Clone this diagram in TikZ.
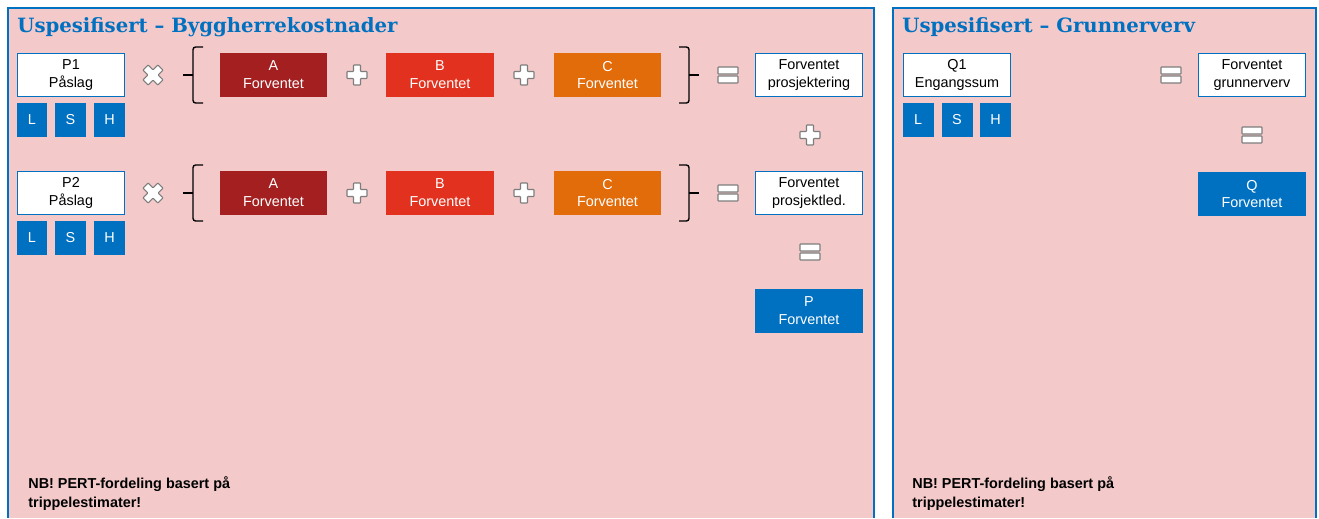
\documentclass[tikz,border=0pt]{standalone}
\usepackage{fontspec}
\setmainfont{Liberation Sans}
\newfontfamily\headfont{DejaVu Serif}

\definecolor{panelpink}{RGB}{243,201,201}
\definecolor{panelblue}{RGB}{0,112,192}
\definecolor{costa}{RGB}{163,31,32}
\definecolor{costb}{RGB}{226,50,31}
\definecolor{costc}{RGB}{226,107,10}
\definecolor{opgray}{RGB}{125,125,125}

\begin{document}
\begin{tikzpicture}[x=0.02cm,y=-0.02cm,
        boxtext/.style={font=\fontsize{8.2}{10.2}\selectfont, align=center, inner sep=0pt},
        inbox/.style={boxtext, draw=panelblue, line width=1pt, fill=white, minimum width=2.14cm, minimum height=0.86cm},
        outbox/.style={boxtext, fill=panelblue, text=white, minimum width=2.16cm, minimum height=0.88cm},
        cost/.style={boxtext, fill=#1, text=white, minimum width=2.16cm, minimum height=0.88cm},
        level/.style={boxtext, fill=panelblue, text=white, minimum width=0.62cm, minimum height=0.68cm},
        heading/.style={font=\headfont\bfseries\fontsize{11.2}{13}\selectfont, text=panelblue, inner sep=0pt, anchor=base west},
        note/.style={font=\bfseries\fontsize{8.2}{10.4}\selectfont, align=left, inner sep=0pt, anchor=base west},
        panelline/.style={draw=panelblue, line width=1.1pt},
        opline/.style={draw=opgray, fill=white, line width=0.6pt, rounded corners=0.4pt},
        bracket/.style={draw=black, line width=0.8pt, rounded corners=1.5pt},
        pics/plusop/.style={code={
            \draw[opline] (-3.5,-10) -- (3.5,-10) -- (3.5,-3.5) -- (10,-3.5) -- (10,3.5) -- (3.5,3.5)
                -- (3.5,10) -- (-3.5,10) -- (-3.5,3.5) -- (-10,3.5) -- (-10,-3.5) -- (-3.5,-3.5) -- cycle;}},
        pics/timesop/.style={code={
            \draw[opline, rotate=45, scale=1.05] (-3.5,-10) -- (3.5,-10) -- (3.5,-3.5) -- (10,-3.5) -- (10,3.5) -- (3.5,3.5)
                -- (3.5,10) -- (-3.5,10) -- (-3.5,3.5) -- (-10,3.5) -- (-10,-3.5) -- (-3.5,-3.5) -- cycle;}},
        pics/eqop/.style={code={
            \draw[opline] (-10,-8) rectangle (10,-1);
            \draw[opline] (-10,1) rectangle (10,8);}},
        pics/lbrace/.style={code={
            \draw[bracket] (10,-28) -- (0,-28) -- (0,28) -- (10,28);
            \draw[bracket] (0,0) -- (-10,0);}}]
        \useasboundingbox (0,0) rectangle (1319,518);

        % panels
        \fill[panelpink] (8,8) rectangle (874,518);
        \draw[panelline] (8,518) -- (8,8) -- (874,8) -- (874,518);
        \fill[panelpink] (893,8) rectangle (1316,518);
        \draw[panelline] (893,518) -- (893,8) -- (1316,8) -- (1316,518);

        \node[heading] at (17,32) (tbygg) {Uspesifisert – Byggherrekostnader};
        \node[heading] at (902,32) (tgrunn) {Uspesifisert – Grunnerverv};

        % byggherrekostnader
        \node[inbox] at (71,75) (p1) {P1\\Påslag};
        \node[level] at (32,120) (p1l) {L};
        \node[level] at (70.5,120) (p1s) {S};
        \node[level] at (109.5,120) (p1h) {H};
        \node[cost=costa] at (273.5,75) (a1) {A\\Forventet};
        \node[cost=costb] at (440,75) (b1) {B\\Forventet};
        \node[cost=costc] at (607.5,75) (c1) {C\\Forventet};
        \node[inbox] at (809,75) (prosj) {Forventet\\prosjektering};

        \node[inbox] at (71,193) (p2) {P2\\Påslag};
        \node[level] at (32,238) (p2l) {L};
        \node[level] at (70.5,238) (p2s) {S};
        \node[level] at (109.5,238) (p2h) {H};
        \node[cost=costa] at (273.5,193) (a2) {A\\Forventet};
        \node[cost=costb] at (440,193) (b2) {B\\Forventet};
        \node[cost=costc] at (607.5,193) (c2) {C\\Forventet};
        \node[inbox] at (809,193) (led) {Forventet\\prosjektled.};

        \node[outbox] at (809,311) (pforv) {P\\Forventet};

        \pic at (153,75) {timesop};
        \pic at (357,75) {plusop};
        \pic at (524,75) {plusop};
        \pic at (728,75) {eqop};
        \pic at (153,193) {timesop};
        \pic at (357,193) {plusop};
        \pic at (524,193) {plusop};
        \pic at (728,193) {eqop};
        \pic at (810,135) {plusop};
        \pic at (810,252) {eqop};

        \pic at (193,75) {lbrace};
        \pic[xscale=-1] at (689,75) {lbrace};
        \pic at (193,193) {lbrace};
        \pic[xscale=-1] at (689,193) {lbrace};

        \node[note] at (28,507) (nbbygg) {NB! PERT-fordeling basert på\\trippelestimater!};

        % grunnerverv
        \node[inbox] at (957,75) (q1) {Q1\\Engangssum};
        \node[level] at (918,120) (q1l) {L};
        \node[level] at (957,120) (q1s) {S};
        \node[level] at (995.5,120) (q1h) {H};
        \node[inbox] at (1252,75) (grunn) {Forventet\\grunnerverv};
        \node[outbox] at (1252,194) (qforv) {Q\\Forventet};

        \pic at (1171,75) {eqop};
        \pic at (1252,135) {eqop};

        \node[note] at (912,507) (nbgrunn) {NB! PERT-fordeling basert på\\trippelestimater!};
    \end{tikzpicture}
\end{document}
